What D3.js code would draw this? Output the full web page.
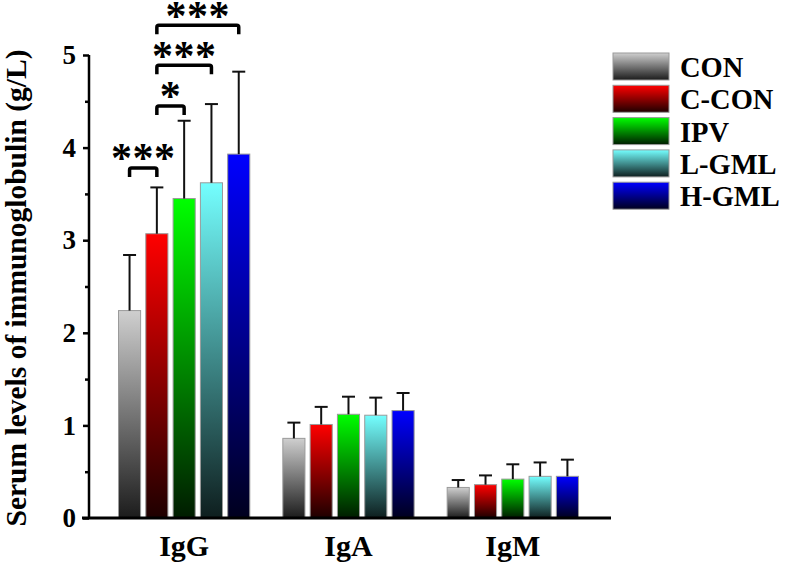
<!DOCTYPE html>
<html>
<head>
<meta charset="utf-8">
<script src="https://cdn.jsdelivr.net/npm/d3@7/dist/d3.min.js"></script>
<style>
  html, body { margin: 0; padding: 0; background: #fff; }
  svg { display: block; }
  text { font-family: "Liberation Serif", "Times New Roman", serif; font-weight: bold; }
</style>
</head>
<body>
<svg id="chart" width="785" height="566"></svg>
<script>
// ---- data ----
const groups = ["IgG", "IgA", "IgM"];
const series = ["CON", "C-CON", "IPV", "L-GML", "H-GML"];
const meanIgG = [2.24, 3.07, 3.45, 3.62, 3.93];
const errIgG  = [0.60, 0.50, 0.84, 0.85, 0.89];
const meanIgA = [0.86, 1.01, 1.12, 1.11, 1.16];
const errIgA  = [0.17, 0.19, 0.19, 0.19, 0.19];
const meanIgM = [0.33, 0.36, 0.42, 0.45, 0.45];
const errIgM  = [0.08, 0.10, 0.16, 0.15, 0.18];
const yTicks = [0, 1, 2, 3, 4, 5];
const topColors    = ["#cfcfcf", "#ff0000", "#00ff00", "#74ffff", "#0000ff"];
const bottomColors = ["#1c1c1c", "#1e0000", "#001c00", "#0e1e1e", "#00001e"];
// significance: [from series index, to series index, label] within IgG
const sigPairs = [[0, 1, "***"], [1, 2, "*"], [1, 3, "***"], [1, 4, "***"]];
const sigLevels = [3.78, 4.45, 4.89, 5.32];

const means = { IgG: meanIgG, IgA: meanIgA, IgM: meanIgM };
const errs  = { IgG: errIgG,  IgA: errIgA,  IgM: errIgM };
const rows = [];
groups.forEach(g => series.forEach((s, i) => rows.push({ g, s, i, v: means[g][i], e: errs[g][i] })));

const svg = d3.select("#chart");
const y = d3.scaleLinear().domain([0, 5]).range([518, 55]);
const x0 = d3.scaleBand().domain(groups).range([102, 595]);
const x1 = d3.scaleBand().domain(series).range([16.5, 147.8]).paddingInner(0.19);

// gradients
const defs = svg.append("defs");
series.forEach((s, i) => {
  const lg = defs.append("linearGradient").attr("id", "grad" + i)
    .attr("x1", 0).attr("y1", 0).attr("x2", 0).attr("y2", 1);
  lg.append("stop").attr("offset", "0%").attr("stop-color", topColors[i]);
  lg.append("stop").attr("offset", "100%").attr("stop-color", bottomColors[i]);
});

// bars
const bx = d => x0(d.g) + x1(d.s);
svg.append("g").selectAll("rect").data(rows).join("rect")
  .attr("x", bx)
  .attr("y", d => y(d.v))
  .attr("width", x1.bandwidth())
  .attr("height", d => y(0) - y(d.v))
  .attr("fill", d => "url(#grad" + d.i + ")")
  .attr("stroke", "#9a9a9a")
  .attr("stroke-width", 1);

// error bars
const eb = svg.append("g").attr("stroke", "#111").attr("stroke-width", 2);
eb.selectAll("line.v").data(rows).join("line").attr("class", "v")
  .attr("x1", d => bx(d) + x1.bandwidth() / 2).attr("x2", d => bx(d) + x1.bandwidth() / 2)
  .attr("y1", d => y(d.v)).attr("y2", d => y(d.v + d.e));
eb.selectAll("line.c").data(rows).join("line").attr("class", "c")
  .attr("x1", d => bx(d) + x1.bandwidth() / 2 - 6.5).attr("x2", d => bx(d) + x1.bandwidth() / 2 + 6.5)
  .attr("y1", d => y(d.v + d.e)).attr("y2", d => y(d.v + d.e));

// y axis
const yAxis = d3.axisLeft(y).tickValues(yTicks).tickFormat(d3.format("d")).tickSize(6).tickPadding(7);
const ya = svg.append("g").attr("transform", "translate(89,0)").call(yAxis);
ya.select(".domain").attr("stroke-width", 2.5).attr("d", "M0," + y(5) + "V" + y(0));
ya.selectAll(".tick line").attr("stroke-width", 2.5);
ya.selectAll(".tick text").attr("font-size", 27).attr("fill", "#000")
  .style("font-family", "'Liberation Serif', serif").style("font-weight", "bold");
const minor = d3.axisLeft(y).tickValues([0.5, 1.5, 2.5, 3.5, 4.5]).tickSize(4).tickFormat("");
const ym = svg.append("g").attr("transform", "translate(89,0)").call(minor);
ym.select(".domain").remove();
ym.selectAll(".tick line").attr("stroke-width", 2.5);

// x axis line
svg.append("line").attr("x1", 82).attr("x2", 611).attr("y1", y(0)).attr("y2", y(0))
  .attr("stroke", "#000").attr("stroke-width", 3);
svg.append("g").selectAll("text").data(groups).join("text")
  .attr("x", d => x0(d) + x0.bandwidth() / 2)
  .attr("y", 556)
  .attr("text-anchor", "middle")
  .attr("font-size", 30)
  .text(d => d);

// y title
svg.append("text")
  .attr("transform", "translate(26," + 288 + ") rotate(-90)")
  .attr("text-anchor", "middle")
  .attr("font-size", 29.5)
  .text("Serum levels of immunoglobulin (g/L)");

// significance brackets
const cx = i => x0("IgG") + x1(series[i]) + x1.bandwidth() / 2;
const sg = svg.append("g");
sigPairs.forEach((p, k) => {
  const yy = y(sigLevels[k]);
  const xa = cx(p[0]), xb = cx(p[1]);
  sg.append("path")
    .attr("d", `M${xa},${yy + 9}V${yy + 2}Q${xa},${yy} ${xa + 2},${yy}H${xb - 2}Q${xb},${yy} ${xb},${yy + 2}V${yy + 9}`)
    .attr("fill", "none").attr("stroke", "#000").attr("stroke-width", 3.5);
  sg.append("text")
    .attr("x", (xa + xb) / 2)
    .attr("y", yy + 4.5)
    .attr("text-anchor", "middle")
    .attr("font-size", 42)
    .attr("letter-spacing", 0.5)
    .text(p[2]);
});

// legend
const lg = svg.append("g").attr("transform", "translate(613,53)");
const li = lg.selectAll("g").data(series).join("g")
  .attr("transform", (d, i) => `translate(0,${i * 32.3})`);
li.append("rect").attr("width", 56).attr("height", 27)
  .attr("fill", (d, i) => "url(#grad" + i + ")")
  .attr("stroke", "#9a9a9a").attr("stroke-width", 1);
li.append("text").attr("x", 67).attr("y", 24).attr("font-size", 28.5).text(d => d);
</script>
</body>
</html>
